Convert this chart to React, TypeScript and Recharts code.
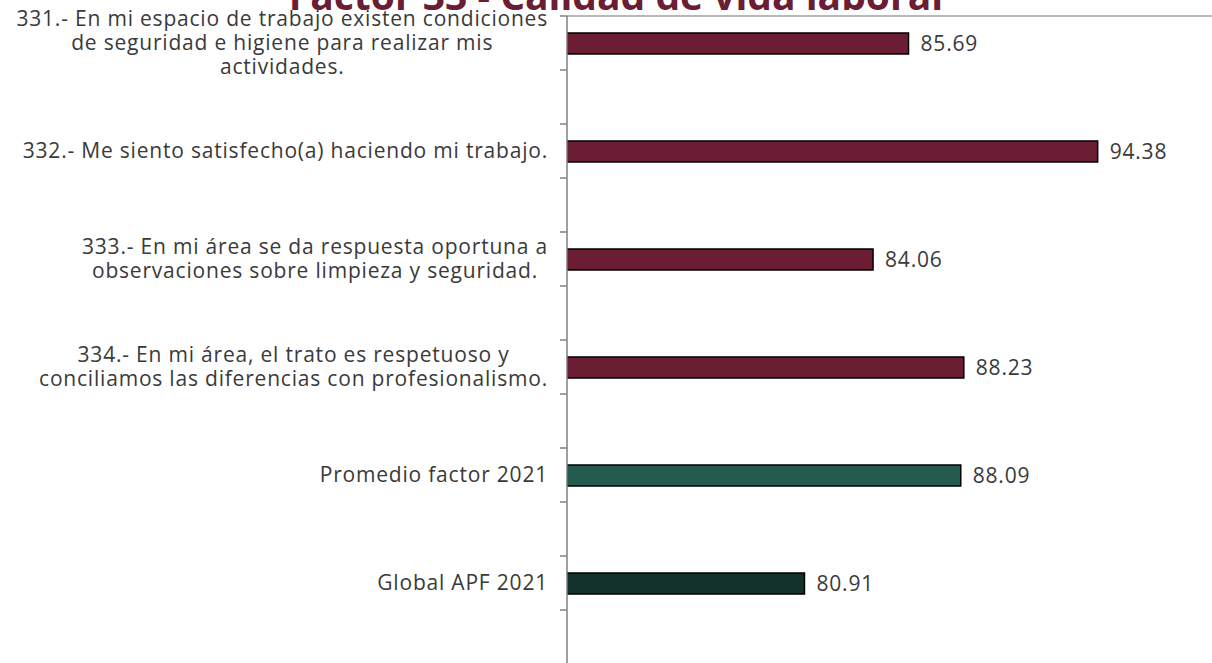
import { BarChart, Bar, Cell, XAxis, YAxis, LabelList } from "recharts"

const title = "Factor 33 - Calidad de vida laboral"

const questionLabels = [
  ["331.- En mi espacio de trabajo existen condiciones", "de seguridad e higiene para realizar mis", "actividades."],
  ["332.- Me siento satisfecho(a) haciendo mi trabajo."],
  ["333.- En mi área se da respuesta oportuna a", "observaciones sobre limpieza y seguridad."],
  ["334.- En mi área, el trato es respetuoso y", "conciliamos las diferencias con profesionalismo."],
  ["Promedio factor 2021"],
  ["Global APF 2021"],
]

const scores = [85.69, 94.38, 84.06, 88.23, 88.09, 80.91]

const barColors = ["#6a1d33", "#6a1d33", "#6a1d33", "#6a1d33", "#245b4e", "#13322b"]

const xDomain = [70, 100]

const FONT = "'Open Sans', sans-serif"
const FONT_SIZE = 21
const SPACING = 0.8
const TEXT = "#3a3a3a"
const AXIS = "#808080"

// each question gets its own row, followed by an empty spacer row (like the excel source)
const rows = scores.flatMap((v, i) => [
  { key: `q${i}`, idx: i, value: v, color: barColors[i] },
  { key: `b${i}`, idx: -1, value: null, color: "none" },
])

let ctx: CanvasRenderingContext2D | null = null
function textWidth(s: string, size: number) {
  if (!ctx) ctx = document.createElement("canvas").getContext("2d")
  if (!ctx) return s.length * size * 0.55
  ctx.font = `${size}px 'Open Sans'`
  return ctx.measureText(s).width + s.length * SPACING
}

function QuestionTick(props: any) {
  const { y, payload } = props
  const row = rows.find((r) => r.key === payload.value)
  if (!row || row.idx < 0) return null
  const lines = questionLabels[row.idx]
  const lh = 24
  const right = 548
  const maxW = Math.max(...lines.map((l) => textWidth(l, FONT_SIZE)))
  const cx = right - maxW / 2
  const top = y - ((lines.length - 1) * lh) / 2
  return (
    <text fill={TEXT} fontFamily={FONT} fontSize={FONT_SIZE} letterSpacing={SPACING} textAnchor="middle">
      {lines.map((l, i) => (
        <tspan key={i} x={cx} y={top + i * lh} dy="0.35em">
          {l}
        </tspan>
      ))}
    </text>
  )
}

export default function App() {
  return (
    <div style={{ position: "fixed", left: 0, top: 0, width: 1212, height: 663, overflow: "hidden", background: "#fff" }}>
      <BarChart
        width={1220}
        height={664}
        data={rows}
        layout="vertical"
        margin={{ top: 15, right: 0, bottom: 0, left: 0 }}
        barCategoryGap={0}
      >
        <XAxis
          type="number"
          domain={xDomain}
          orientation="top"
          height={1}
          tick={false}
          tickLine={false}
          axisLine={{ stroke: "#a0a0a0", strokeWidth: 1.5 }}
          allowDataOverflow
        />
        <YAxis
          yAxisId="cat"
          type="category"
          dataKey="key"
          width={566}
          axisLine={false}
          tickLine={false}
          interval={0}
          tick={<QuestionTick />}
        />
        {/* tick marks sit on the row boundaries */}
        <YAxis
          yAxisId="a"
          type="category"
          dataKey="key"
          scale="point"
          padding={{ top: 0, bottom: 54 }}
          interval={0}
          width={1}
          tickFormatter={() => ""}
          tickSize={7}
          tickLine={{ stroke: AXIS, strokeWidth: 1.5 }}
          axisLine={{ stroke: AXIS, strokeWidth: 1.5 }}
        />
        <Bar yAxisId="cat" dataKey="value" barSize={21} stroke="#000" strokeWidth={1.5} isAnimationActive={false}>
          {rows.map((r) => (
            <Cell key={r.key} fill={r.color} />
          ))}
          <LabelList
            dataKey="value"
            position="right"
            offset={12}
            fill={TEXT}
            fontFamily={FONT}
            fontSize={FONT_SIZE}
            letterSpacing={SPACING}
            formatter={(v: any) => (v == null ? "" : Number(v).toFixed(2))}
          />
        </Bar>
      </BarChart>
      <svg width={1212} height={30} style={{ position: "absolute", left: 0, top: 0, pointerEvents: "none" }}>
        <text x={616} y={10} textAnchor="middle" fill="#6a1d33" fontFamily={FONT} fontWeight={700} fontSize={39}>
          {title}
        </text>
      </svg>
    </div>
  )
}
